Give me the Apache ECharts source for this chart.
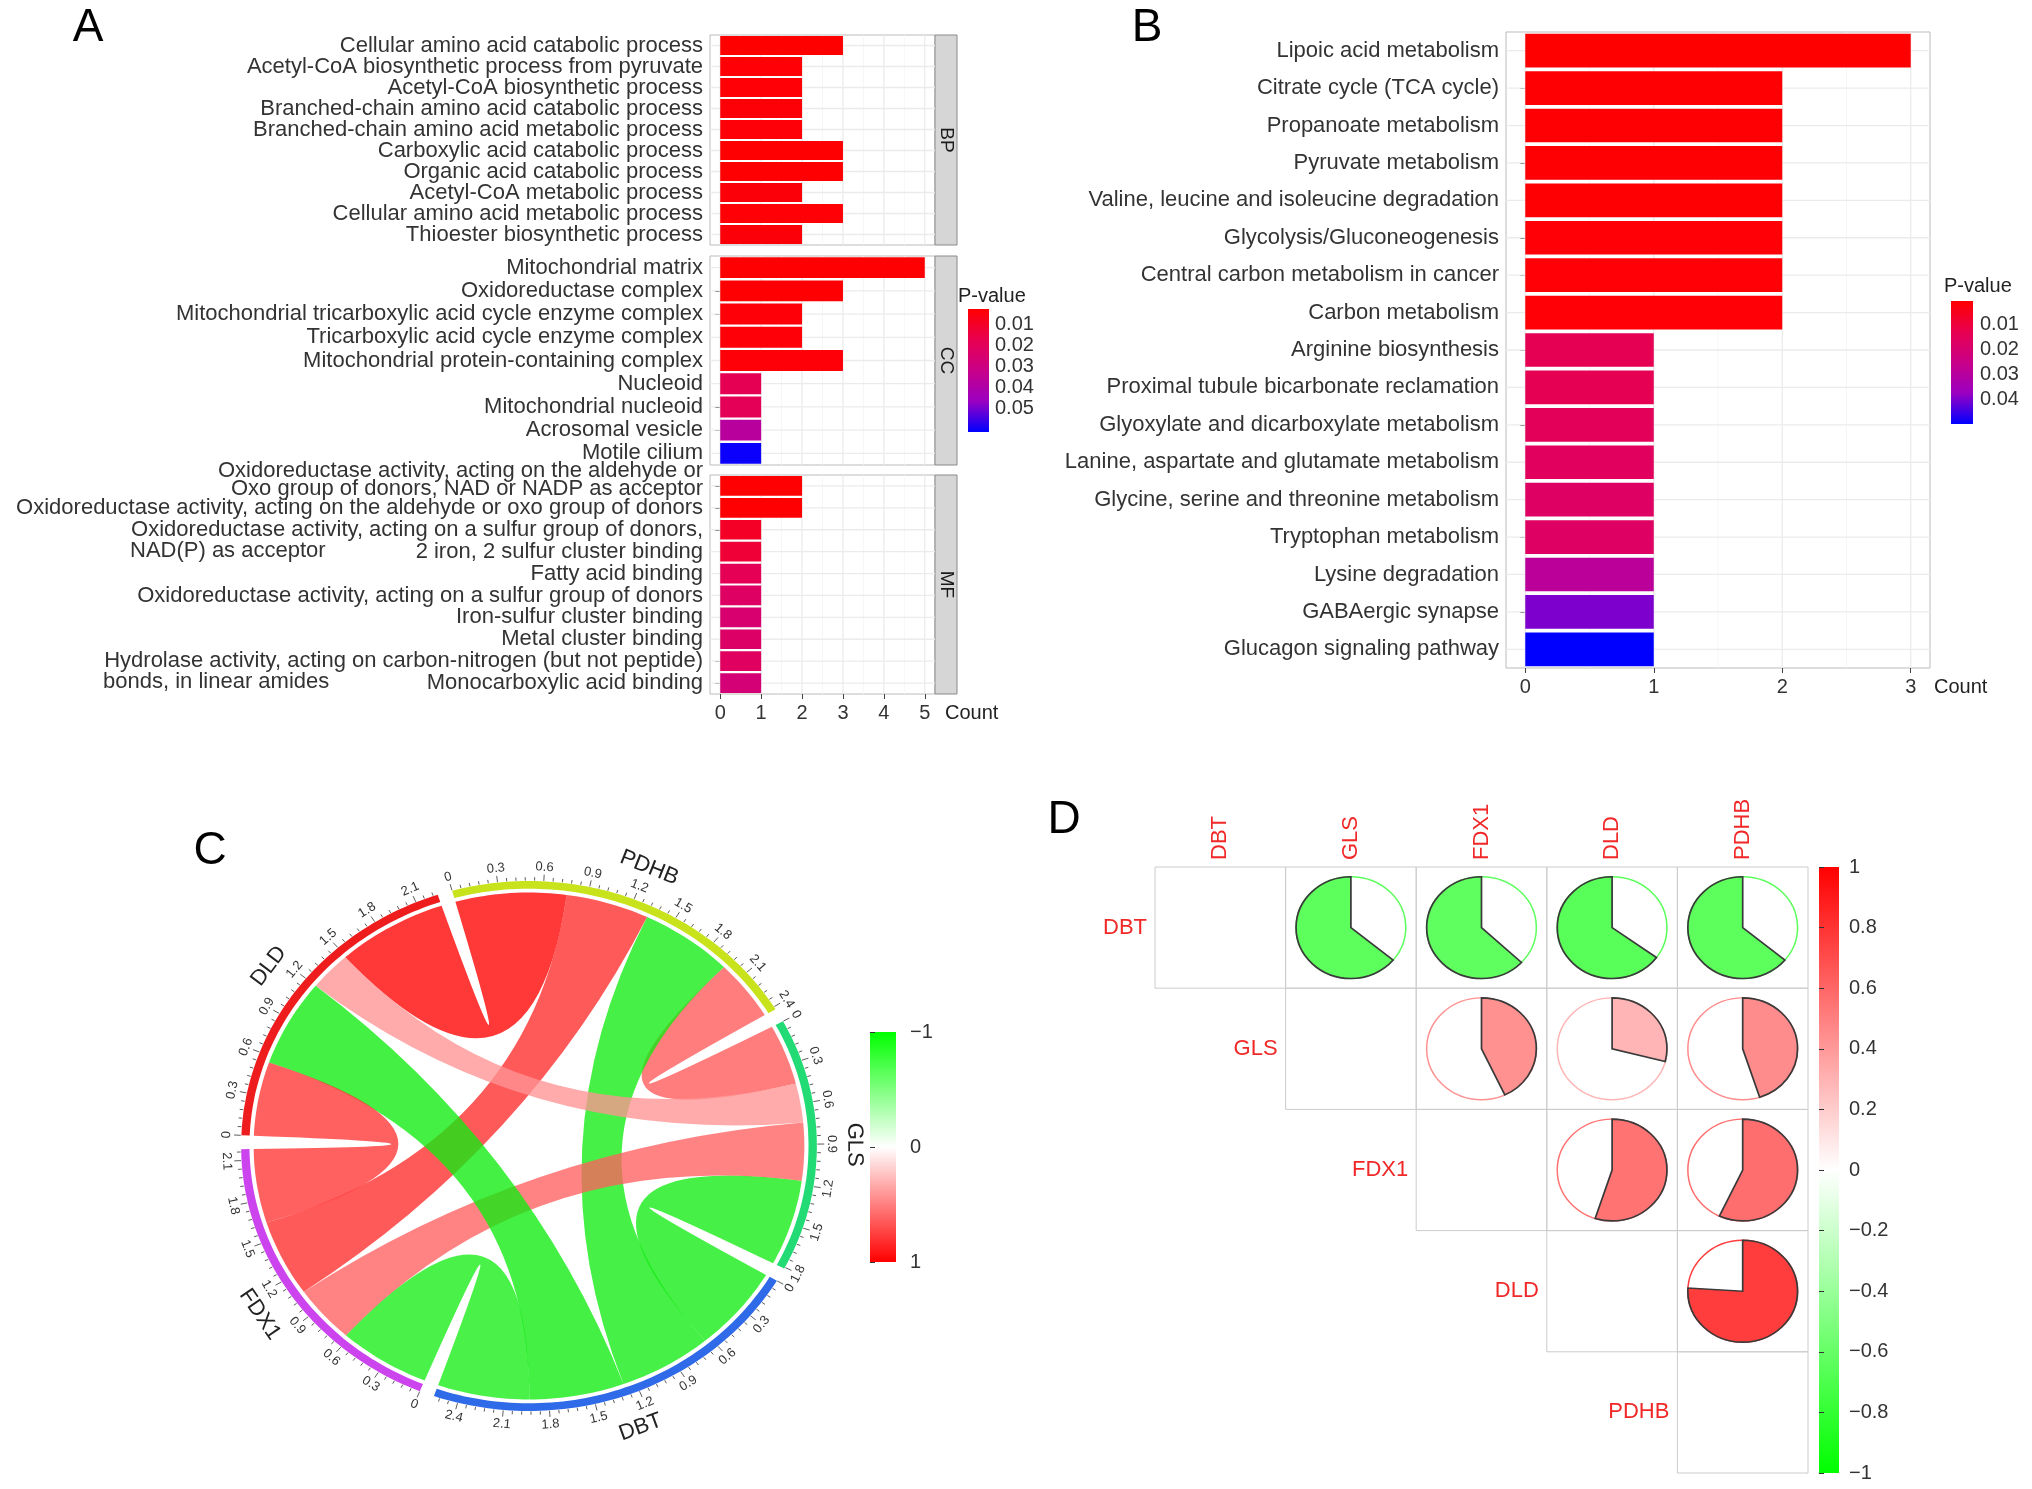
<!DOCTYPE html>
<html>
<head>
<meta charset="utf-8">
<script src="https://cdn.jsdelivr.net/npm/echarts@6/dist/echarts.min.js"></script>
<style>
html,body{margin:0;padding:0;background:#fff;}
#main{width:2032px;height:1489px;}
</style>
</head>
<body>
<div id="main"></div>
<script>
// ---------- panel A : GO terms ----------
var bpTerms = ['Cellular amino acid catabolic process','Acetyl-CoA biosynthetic process from pyruvate','Acetyl-CoA biosynthetic process',
  'Branched-chain amino acid catabolic process','Branched-chain amino acid metabolic process','Carboxylic acid catabolic process',
  'Organic acid catabolic process','Acetyl-CoA metabolic process','Cellular amino acid metabolic process','Thioester biosynthetic process'];
var bpCount = [3, 2, 2, 2, 2, 3, 3, 2, 3, 2];
var bpP = [0.0028, 0.0035, 0.0035, 0.0038, 0.004, 0.003, 0.003, 0.0045, 0.0035, 0.0045];

var ccTerms = ['Mitochondrial matrix','Oxidoreductase complex','Mitochondrial tricarboxylic acid cycle enzyme complex',
  'Tricarboxylic acid cycle enzyme complex','Mitochondrial protein-containing complex','Nucleoid','Mitochondrial nucleoid',
  'Acrosomal vesicle','Motile cilium'];
var ccCount = [5, 3, 2, 2, 3, 1, 1, 1, 1];
var ccP = [0.003, 0.003, 0.004, 0.004, 0.004, 0.018, 0.019, 0.037, 0.060];

var mfTerms = ['Oxidoreductase activity, acting on the aldehyde or\nOxo group of donors, NAD or NADP as acceptor',
  'Oxidoreductase activity, acting on the aldehyde or oxo group of donors',
  'Oxidoreductase activity, acting on a sulfur group of donors,\nNAD(P) as acceptor',
  '2 iron, 2 sulfur cluster binding','Fatty acid binding','Oxidoreductase activity, acting on a sulfur group of donors',
  'Iron-sulfur cluster binding','Metal cluster binding',
  'Hydrolase activity, acting on carbon-nitrogen (but not peptide)\nbonds, in linear amides',
  'Monocarboxylic acid binding'];
var mfCount = [2, 2, 1, 1, 1, 1, 1, 1, 1, 1];
var mfP = [0.003, 0.003, 0.0096, 0.0125, 0.0184, 0.022, 0.025, 0.023, 0.021, 0.027];
var mfLeftWrapped = [2, 8];   // wrapped labels: 1st line on the bar, 2nd line flush left below
var mfRaisedWrapped = [0];    // wrapped label: 2nd line on the bar

var countTicksA = [0, 1, 2, 3, 4, 5];
var pTicksA = [0.01, 0.02, 0.03, 0.04, 0.05];
var pRangeA = [0.0026, 0.061];

// ---------- panel B : KEGG ----------
var keggTerms = ['Lipoic acid metabolism','Citrate cycle (TCA cycle)','Propanoate metabolism','Pyruvate metabolism',
  'Valine, leucine and isoleucine degradation','Glycolysis/Gluconeogenesis','Central carbon metabolism in cancer',
  'Carbon metabolism','Arginine biosynthesis','Proximal tubule bicarbonate reclamation',
  'Glyoxylate and dicarboxylate metabolism','Lanine, aspartate and glutamate metabolism',
  'Glycine, serine and threonine metabolism','Tryptophan metabolism','Lysine degradation','GABAergic synapse',
  'Glucagon signaling pathway'];
var keggCount = [3, 2, 2, 2, 2, 2, 2, 2, 1, 1, 1, 1, 1, 1, 1, 1, 1];
var keggP = [0.0008, 0.0012, 0.0012, 0.0013, 0.0014, 0.0015, 0.0015, 0.0016, 0.014, 0.014, 0.015, 0.016, 0.017, 0.017, 0.029, 0.040, 0.050];
var countTicksB = [0, 1, 2, 3];
var pTicksB = [0.01, 0.02, 0.03, 0.04];
var pRangeB = [0.0008, 0.05];

// ---------- panels C / D : gene correlations ----------
var genes = ['DBT', 'GLS', 'FDX1', 'DLD', 'PDHB'];
var corr = [
  [1, -0.64, -0.63, -0.65, -0.64],
  [-0.64, 1, 0.43, 0.29, 0.45],
  [-0.63, 0.43, 1, 0.55, 0.57],
  [-0.65, 0.29, 0.55, 1, 0.76],
  [-0.64, 0.45, 0.57, 0.76, 1]
];
var chordOrder = ['PDHB', 'GLS', 'DBT', 'FDX1', 'DLD'];
var chordTrackColors = ['#C8E31C', '#22DB75', '#2F6AE8', '#CC44EE', '#EE1C1C'];
var chordMajorStep = 0.3;
var chordMinorPerMajor = 5;

// ---------- styling / layout ----------
var FONT = '"Liberation Sans", Arial, Helvetica, sans-serif';
var A_FS = 22;
var PAL_P = ['#FF0000', '#E80050', '#C90088', '#9A00C2', '#0000FF'];
var PAL_R = ['#00FF00', '#FFFFFF', '#FF0000'];
var LAY = {
  aLeft: 710, aWidth: 225, stripW: 22,
  aPanels: [{top: 35, height: 210}, {top: 256, height: 209}, {top: 475, height: 219}],
  aBar: {left: 968, top: 309, width: 21, height: 123},
  bGrid: {left: 1506, top: 32, width: 424, height: 636},
  bBar: {left: 1951, top: 301, width: 22, height: 123},
  cBar: {left: 870, top: 1032, width: 26, height: 230},
  dGrid: {left: 1155, top: 867, width: 653, height: 606},
  dBar: {left: 1819, top: 867, width: 20, height: 606},
  chord: {cx: 529, cy: 1146, R: 276, sx: 1.043, sy: 0.96, band: 8, ribGap: 4, gap: 3, start: -15.5}
};

var chart = echarts.init(document.getElementById('main'));

// text width helper for the wrapped MF labels
var measureCtx = document.createElement('canvas').getContext('2d');
measureCtx.font = A_FS + 'px ' + FONT;
function textW(s) { return Math.ceil(measureCtx.measureText(s).width) + 1; }

var grids = [], xAxes = [], yAxes = [], series = [], graphics = [];
function addSeries(s) { series.push(s); return series.length - 1; }

// background grid lines (ggplot style) drawn under the bars
function gridLineData(ticks, nCat) {
  var d = [];
  ticks.forEach(function (v) { d.push([0, v, 0]); });
  for (var k = 0; k < ticks.length - 1; k++) d.push([1, (ticks[k] + ticks[k + 1]) / 2, 0]);
  for (var c = 0; c < nCat; c++) d.push([2, 0, c]);
  return d;
}
function gridLineItem(params, api) {
  var kind = api.value(0), cs = params.coordSys;
  if (kind < 2) {
    var x = api.coord([api.value(1), 0])[0];
    return {type: 'line', shape: {x1: x, y1: cs.y, x2: x, y2: cs.y + cs.height},
      style: {stroke: kind === 0 ? '#EBEBEB' : '#F5F5F5', lineWidth: kind === 0 ? 1.3 : 0.9}};
  }
  var y = api.coord([0, api.value(2)])[1];
  return {type: 'line', shape: {x1: cs.x, y1: y, x2: cs.x + cs.width, y2: y}, style: {stroke: '#EBEBEB', lineWidth: 1.3}};
}
function colorbarSeries(gi, colors, yVal) {
  return {type: 'custom', xAxisIndex: gi, yAxisIndex: gi, silent: true, z: 2, data: [[0.5, yVal]],
    renderItem: function (params) {
      var cs = params.coordSys;
      var stops = colors.map(function (c, k) { return {offset: k / (colors.length - 1), color: c}; });
      return {type: 'rect', shape: {x: cs.x, y: cs.y, width: cs.width, height: cs.height},
        style: {fill: new echarts.graphic.LinearGradient(0, 0, 0, 1, stops)}};
    }};
}
function hiddenX(gi) { return {gridIndex: gi, type: 'value', min: 0, max: 1, show: false}; }

// ===== Panel A =====
var aData = [
  {terms: bpTerms, count: bpCount, p: bpP, strip: 'BP'},
  {terms: ccTerms, count: ccCount, p: ccP, strip: 'CC'},
  {terms: mfTerms, count: mfCount, p: mfP, strip: 'MF'}
];
var mfRich = {
  e: {fontSize: A_FS, lineHeight: 21},
  s: {fontSize: A_FS, lineHeight: 18, color: '#333', fontFamily: FONT},
  t: {fontSize: 8, lineHeight: 12}
};
mfLeftWrapped.forEach(function (k) {
  var l1 = mfTerms[k].split('\n')[0];
  mfRich['w' + k] = {width: textW(l1), align: 'left', fontSize: A_FS, lineHeight: 21, color: '#333', fontFamily: FONT};
});
function mfFormatter(value, idx) {
  var parts = value.split('\n');
  if (mfLeftWrapped.indexOf(idx) >= 0) return '{e| }\n' + parts[0] + '\n{w' + idx + '|' + parts[1] + '}';
  if (mfRaisedWrapped.indexOf(idx) >= 0) return '{s|' + parts[0] + '}\n{s|' + parts[1] + '}\n{t| }';
  return value;
}
var aBarSeries = [];
aData.forEach(function (pd, i) {
  var pan = LAY.aPanels[i];
  grids.push({left: LAY.aLeft, top: pan.top, width: LAY.aWidth, height: pan.height, show: true,
    backgroundColor: '#fff', borderColor: '#BBBBBB', borderWidth: 1, outerBoundsMode: 'none'});
  var last = i === 2;
  xAxes.push({gridIndex: i, type: 'value', min: -0.25, max: 5.25, axisLine: {show: false}, splitLine: {show: false},
    axisTick: {show: last, customValues: countTicksA, length: 5, lineStyle: {color: '#444'}},
    axisLabel: {show: last, customValues: countTicksA, fontSize: 20, color: '#333', margin: 9},
    name: last ? 'Count' : '', nameLocation: 'end', nameGap: 10,
    nameTextStyle: {fontSize: 20, color: '#222', align: 'left', verticalAlign: 'top', padding: [9, 0, 0, 0]}});
  yAxes.push({gridIndex: i, type: 'category', data: pd.terms, inverse: true, axisLine: {show: false}, splitLine: {show: false},
    axisTick: {show: true, alignWithLabel: true, interval: 0, length: 5, lineStyle: {color: '#444'}},
    axisLabel: {interval: 0, fontSize: A_FS, color: '#333', margin: 7, lineHeight: 21,
      rich: last ? mfRich : {}, formatter: last ? mfFormatter : null}});
  addSeries({type: 'custom', xAxisIndex: i, yAxisIndex: i, silent: true, z: 1, encode: {x: 1, y: 2},
    data: gridLineData(countTicksA, pd.terms.length), renderItem: gridLineItem});
  aBarSeries.push(addSeries({type: 'bar', xAxisIndex: i, yAxisIndex: i, barWidth: '90%', z: 3, encode: {x: 0, y: 1},
    data: pd.terms.map(function (t, k) { return [pd.count[k], k, pd.p[k]]; })}));
  // facet strip
  graphics.push({type: 'rect', shape: {x: LAY.aLeft + LAY.aWidth, y: pan.top, width: LAY.stripW, height: pan.height},
    style: {fill: '#D6D6D6', stroke: '#8A8A8A', lineWidth: 1}});
  graphics.push({type: 'text', x: LAY.aLeft + LAY.aWidth + LAY.stripW / 2, y: pan.top + pan.height / 2, rotation: -Math.PI / 2,
    style: {text: pd.strip, fontSize: 19, fontFamily: FONT, fill: '#1A1A1A', align: 'center', verticalAlign: 'middle'}});
});
// A colour bar
grids.push({left: LAY.aBar.left, top: LAY.aBar.top, width: LAY.aBar.width, height: LAY.aBar.height, outerBoundsMode: 'none'});
xAxes.push(hiddenX(3));
yAxes.push({gridIndex: 3, type: 'value', min: pRangeA[0], max: pRangeA[1], inverse: true, position: 'right', z: 10,
  axisLine: {show: false}, splitLine: {show: false},
  axisTick: {show: true, inside: true, length: 4, customValues: pTicksA, lineStyle: {color: '#fff'}},
  axisLabel: {customValues: pTicksA, fontSize: 20, color: '#333', margin: 6, formatter: function (v) { return v.toFixed(2); }}});
addSeries(colorbarSeries(3, PAL_P, pRangeA[0]));
graphics.push({type: 'text', x: 958, y: 296, style: {text: 'P-value', fontSize: 20, fontFamily: FONT, fill: '#222', align: 'left', verticalAlign: 'middle'}});

// ===== Panel B =====
grids.push({left: LAY.bGrid.left, top: LAY.bGrid.top, width: LAY.bGrid.width, height: LAY.bGrid.height, show: true,
  backgroundColor: '#fff', borderColor: '#BBBBBB', borderWidth: 1, outerBoundsMode: 'none'});
xAxes.push({gridIndex: 4, type: 'value', min: -0.15, max: 3.15, axisLine: {show: false}, splitLine: {show: false},
  axisTick: {show: true, customValues: countTicksB, length: 5, lineStyle: {color: '#444'}},
  axisLabel: {customValues: countTicksB, fontSize: 20, color: '#333', margin: 9},
  name: 'Count', nameLocation: 'end', nameGap: 4,
  nameTextStyle: {fontSize: 20, color: '#222', align: 'left', verticalAlign: 'top', padding: [9, 0, 0, 0]}});
yAxes.push({gridIndex: 4, type: 'category', data: keggTerms, inverse: true, axisLine: {show: false}, splitLine: {show: false},
  axisTick: {show: true, alignWithLabel: true, interval: 0, length: 5, lineStyle: {color: '#444'}},
  axisLabel: {interval: 0, fontSize: 22, color: '#333', margin: 7}});
addSeries({type: 'custom', xAxisIndex: 4, yAxisIndex: 4, silent: true, z: 1, encode: {x: 1, y: 2},
  data: gridLineData(countTicksB, keggTerms.length), renderItem: gridLineItem});
var bBarSeries = addSeries({type: 'bar', xAxisIndex: 4, yAxisIndex: 4, barWidth: '90%', z: 3, encode: {x: 0, y: 1},
  data: keggTerms.map(function (t, k) { return [keggCount[k], k, keggP[k]]; })});
grids.push({left: LAY.bBar.left, top: LAY.bBar.top, width: LAY.bBar.width, height: LAY.bBar.height, outerBoundsMode: 'none'});
xAxes.push(hiddenX(5));
yAxes.push({gridIndex: 5, type: 'value', min: pRangeB[0], max: pRangeB[1], inverse: true, position: 'right', z: 10,
  axisLine: {show: false}, splitLine: {show: false},
  axisTick: {show: true, inside: true, length: 4, customValues: pTicksB, lineStyle: {color: '#fff'}},
  axisLabel: {customValues: pTicksB, fontSize: 20, color: '#333', margin: 7, formatter: function (v) { return v.toFixed(2); }}});
addSeries(colorbarSeries(5, PAL_P, pRangeB[0]));
graphics.push({type: 'text', x: 1944, y: 286, style: {text: 'P-value', fontSize: 20, fontFamily: FONT, fill: '#222', align: 'left', verticalAlign: 'middle'}});

// ===== Panel C : chord diagram =====
var CH = LAY.chord;
var cIdx = chordOrder.map(function (g) { return genes.indexOf(g); });
var nS = chordOrder.length;
var totals = cIdx.map(function (a) {
  return cIdx.reduce(function (s, b) { return b === a ? s : s + Math.abs(corr[a][b]); }, 0);
});
var unitDeg = (360 - nS * CH.gap) / totals.reduce(function (a, b) { return a + b; }, 0);
var secStart = [];
(function () { var a = CH.start; for (var s = 0; s < nS; s++) { secStart.push(a); a += totals[s] * unitDeg + CH.gap; } })();
var linkPos = [];
for (var s = 0; s < nS; s++) {
  linkPos.push([]);
  var acc = 0;
  for (var k = 1; k < nS; k++) {
    var t = (s - k + nS) % nS;
    var w = Math.abs(corr[cIdx[s]][cIdx[t]]);
    linkPos[s][t] = [acc, acc + w];
    acc += w;
  }
}
function angOf(s, v) { return secStart[s] + v * unitDeg; }
function ptAt(deg, rad) {
  var a = deg * Math.PI / 180;
  return [CH.cx + rad * CH.sx * Math.sin(a), CH.cy - rad * CH.sy * Math.cos(a)];
}
function arcPts(s, v0, v1, rad) {
  var a0 = angOf(s, v0), a1 = angOf(s, v1);
  var n = Math.max(2, Math.ceil(Math.abs(a1 - a0) / 1.2)), out = [];
  for (var k = 0; k <= n; k++) out.push(ptAt(a0 + (a1 - a0) * k / n, rad));
  return out;
}
function f1(p) { return p[0].toFixed(1) + ' ' + p[1].toFixed(1); }
function ribbonColor(r) {
  var f = Math.min(1, Math.abs(r) * 1.45);
  var base = r < 0 ? [0, 235, 0] : [255, 0, 0];
  var c = base.map(function (b) { return Math.round(255 + (b - 255) * f); });
  return 'rgb(' + c.join(',') + ')';
}
function facing(deg) {
  var d = ((deg % 360) + 360) % 360;
  var flip = d > 90 && d < 270;
  var cw = flip ? d - 180 : (d >= 270 ? d - 360 : d);
  return {rotation: -cw * Math.PI / 180, flip: flip};
}
var ribbonData = [];
for (var a = 0; a < nS; a++) for (var b = a + 1; b < nS; b++) ribbonData.push([a, b, corr[cIdx[a]][cIdx[b]]]);
var RIB_R = CH.R - CH.band - CH.ribGap;
addSeries({type: 'custom', coordinateSystem: 'none', silent: true, z: 2, data: ribbonData,
  renderItem: function (params, api) {
    var s = api.value(0), t = api.value(1), r = api.value(2);
    var A = arcPts(s, linkPos[s][t][0], linkPos[s][t][1], RIB_R);
    var B = arcPts(t, linkPos[t][s][0], linkPos[t][s][1], RIB_R);
    var c = CH.cx.toFixed(1) + ' ' + CH.cy.toFixed(1);
    var d = 'M' + f1(A[0]);
    for (var k = 1; k < A.length; k++) d += 'L' + f1(A[k]);
    d += 'Q' + c + ' ' + f1(B[0]);
    for (k = 1; k < B.length; k++) d += 'L' + f1(B[k]);
    d += 'Q' + c + ' ' + f1(A[0]) + 'Z';
    return {type: 'path', shape: {pathData: d}, style: {fill: ribbonColor(r), opacity: 0.78}};
  }});
addSeries({type: 'custom', coordinateSystem: 'none', silent: true, z: 3,
  data: chordOrder.map(function (g, s) { return [s, totals[s]]; }),
  renderItem: function (params, api) {
    var s = api.value(0), tot = api.value(1), kids = [];
    var outer = arcPts(s, 0, tot, CH.R), inner = arcPts(s, tot, 0, CH.R - CH.band);
    var d = 'M' + f1(outer[0]);
    outer.slice(1).concat(inner).forEach(function (p) { d += 'L' + f1(p); });
    kids.push({type: 'path', shape: {pathData: d + 'Z'}, style: {fill: chordTrackColors[s]}});
    var minor = chordMajorStep / chordMinorPerMajor, tk = '';
    for (var k = 0; k * minor <= tot + 1e-9; k++) {
      var v = k * minor, major = k % chordMinorPerMajor === 0, deg = angOf(s, v);
      tk += 'M' + f1(ptAt(deg, CH.R + 0.5)) + 'L' + f1(ptAt(deg, CH.R + (major ? 7 : 4)));
      if (major) {
        var fc = facing(deg), p = ptAt(deg, CH.R + 8);
        kids.push({type: 'text', x: p[0], y: p[1], rotation: fc.rotation,
          style: {text: v === 0 ? '0' : v.toFixed(1), fontSize: 13, fontFamily: FONT, fill: '#333',
            align: 'center', verticalAlign: fc.flip ? 'top' : 'bottom'}});
      }
    }
    kids.push({type: 'path', shape: {pathData: tk}, style: {stroke: '#333', lineWidth: 0.8, fill: null}});
    var mid = angOf(s, tot / 2), fm = facing(mid), pm = ptAt(mid, CH.R + 36);
    kids.push({type: 'text', x: pm[0], y: pm[1], rotation: fm.rotation,
      style: {text: chordOrder[s], fontSize: 22, fontFamily: FONT, fill: '#222', align: 'center', verticalAlign: 'middle'}});
    return {type: 'group', children: kids};
  }});
// C colour bar
grids.push({left: LAY.cBar.left, top: LAY.cBar.top, width: LAY.cBar.width, height: LAY.cBar.height, outerBoundsMode: 'none'});
xAxes.push(hiddenX(6));
yAxes.push({gridIndex: 6, type: 'value', min: -1, max: 1, interval: 1, inverse: true, position: 'right', z: 10,
  axisLine: {show: false}, splitLine: {show: false},
  axisTick: {show: true, length: 5, lineStyle: {color: '#333'}},
  axisLabel: {fontSize: 20, color: '#333', margin: 14, formatter: function (v) { return v < 0 ? '\u2212' + Math.abs(v) : String(v); }}});
addSeries(colorbarSeries(6, PAL_R, 0));

// ===== Panel D : correlation pies =====
grids.push({left: LAY.dGrid.left, top: LAY.dGrid.top, width: LAY.dGrid.width, height: LAY.dGrid.height, outerBoundsMode: 'none'});
xAxes.push({gridIndex: 7, type: 'category', data: genes, show: false});
yAxes.push({gridIndex: 7, type: 'category', data: genes, inverse: true, show: false});
var dData = [];
for (var i = 0; i < genes.length; i++) for (var j = i; j < genes.length; j++) dData.push([j, i, corr[i][j]]);
var dSeries = addSeries({type: 'custom', xAxisIndex: 7, yAxisIndex: 7, silent: true, z: 3, data: dData,
  renderItem: function (params, api) {
    var j = api.value(0), i = api.value(1), r = api.value(2);
    var c = api.coord([j, i]), sz = api.size([1, 1]), w = sz[0], h = sz[1];
    var kids = [{type: 'rect', shape: {x: c[0] - w / 2, y: c[1] - h / 2, width: w, height: h},
      style: {fill: null, stroke: '#CCCCCC', lineWidth: 1}}];
    if (i === j) {
      kids.push({type: 'text', x: c[0] - w / 2 - 8, y: c[1],
        style: {text: genes[i], fontSize: 22, fontFamily: FONT, fill: '#F02828', align: 'right', verticalAlign: 'middle'}});
    } else {
      var col = api.visual('color'), R = h * 0.42;
      kids.push({type: 'group', x: c[0], y: c[1], scaleX: w / h, children: [
        {type: 'circle', shape: {cx: 0, cy: 0, r: R}, style: {fill: '#fff', stroke: col, lineWidth: 1.4}},
        {type: 'sector', shape: {cx: 0, cy: 0, r0: 0, r: R, startAngle: -Math.PI / 2,
          endAngle: -Math.PI / 2 + r * 2 * Math.PI, clockwise: r > 0},
          style: {fill: col, stroke: '#3A3A3A', lineWidth: 1.6}}
      ]});
    }
    if (i === 0) {
      kids.push({type: 'text', x: c[0], y: c[1] - h / 2 - 7, rotation: Math.PI / 2,
        style: {text: genes[j], fontSize: 22, fontFamily: FONT, fill: '#F02828', align: 'left', verticalAlign: 'middle'}});
    }
    return {type: 'group', children: kids};
  }});
// D colour bar
grids.push({left: LAY.dBar.left, top: LAY.dBar.top, width: LAY.dBar.width, height: LAY.dBar.height, outerBoundsMode: 'none'});
xAxes.push(hiddenX(8));
yAxes.push({gridIndex: 8, type: 'value', min: -1, max: 1, interval: 0.2, position: 'right', z: 10,
  axisLine: {show: false}, splitLine: {show: false},
  axisTick: {show: true, length: 5, lineStyle: {color: '#333'}},
  axisLabel: {fontSize: 20, color: '#333', margin: 10, formatter: function (v) {
    var x = Math.round(v * 10) / 10; return x < 0 ? '\u2212' + Math.abs(x) : String(x); }}});
addSeries(colorbarSeries(8, PAL_R.slice().reverse(), 0));

// panel letters
[['A', 88, 28], ['B', 1147, 28], ['C', 210, 851], ['D', 1064, 820]].forEach(function (l) {
  graphics.push({type: 'text', x: l[1], y: l[2], style: {text: l[0], fontSize: 46, fontFamily: FONT, fill: '#000', align: 'center', verticalAlign: 'middle'}});
});

chart.setOption({
  animation: false,
  backgroundColor: '#fff',
  textStyle: {fontFamily: FONT},
  grid: grids,
  xAxis: xAxes,
  yAxis: yAxes,
  visualMap: [
    {type: 'continuous', show: false, seriesIndex: aBarSeries, dimension: 2, min: pRangeA[0], max: pRangeA[1], inRange: {color: PAL_P}},
    {type: 'continuous', show: false, seriesIndex: [bBarSeries], dimension: 2, min: pRangeB[0], max: pRangeB[1], inRange: {color: PAL_P}},
    {type: 'continuous', show: false, seriesIndex: [dSeries], dimension: 2, min: -1, max: 1, inRange: {color: PAL_R}}
  ],
  series: series,
  graphic: graphics
});
</script>
</body>
</html>
